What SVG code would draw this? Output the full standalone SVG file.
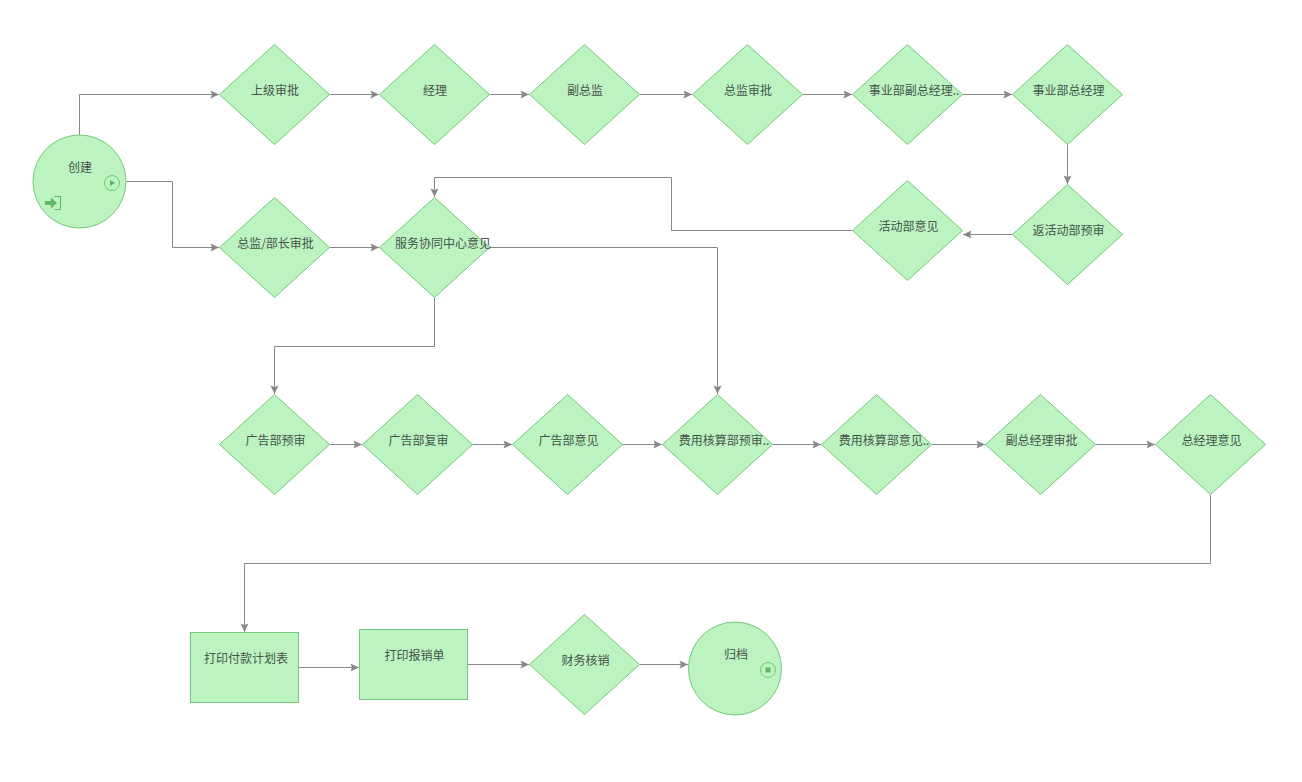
<svg xmlns="http://www.w3.org/2000/svg" width="1302" height="782" viewBox="0 0 1302 782">
<style>
.n{fill:#bdf3c1;stroke:#72c97a;stroke-width:1}
.c{fill:none;stroke:#888;stroke-width:1;marker-end:url(#a)}
text{font-family:"Noto Sans CJK SC","Noto Sans",sans-serif;font-size:12px;fill:#44544a;text-anchor:middle}
</style>
<defs>
<marker id="a" markerUnits="userSpaceOnUse" markerWidth="11" markerHeight="11" refX="9.5" refY="5" orient="auto"><path d="M1,1 L9.5,5 L1,9 L2.5,5 Z" fill="#888"/></marker>
<polygon id="d" class="n" points="0,-50 55,0 0,50 -55,0"/>
</defs>
<rect width="1302" height="782" fill="#fff"/>
<g id="connectors">
<path class="c" d="M79.5,135V94.5H219"/>
<path class="c" d="M126,181.5H172.5V247.5H219"/>
<path class="c" d="M330,94.5H379"/>
<path class="c" d="M490,94.5H529"/>
<path class="c" d="M640,94.5H692"/>
<path class="c" d="M803,94.5H852"/>
<path class="c" d="M963,94.5H1012"/>
<path class="c" d="M1067.5,145V184"/>
<path class="c" d="M1012,234.5H963"/>
<path class="c" d="M852,230.5H671.5V177.5H434.5V197"/>
<path class="c" d="M330,247.5H379"/>
<path class="c" d="M490,247.5H717.5V394"/>
<path class="c" d="M434.5,298V346.5H274.5V394"/>
<path class="c" d="M330,444.5H362"/>
<path class="c" d="M473,444.5H512"/>
<path class="c" d="M623,444.5H662"/>
<path class="c" d="M773,444.5H821"/>
<path class="c" d="M932,444.5H985"/>
<path class="c" d="M1096,444.5H1155"/>
<path class="c" d="M1210.5,495V563.5H244.5V632"/>
<path class="c" d="M298.5,667.5H359"/>
<path class="c" d="M467.5,664.5H529"/>
<path class="c" d="M640,664.5H688"/>
</g>
<g id="n-create"><circle class="n" cx="79.5" cy="181.5" r="46.5"/><text x="80" y="172">创建</text>
<circle cx="112" cy="183" r="7.5" fill="none" stroke="#72c97a"/><path d="M110,180L115,183L110,186Z" fill="#5cb866"/>
<path d="M45,201H51V197.5L57,203L51,208.5V205H45Z" fill="#5cb866"/><path d="M54.5,196.5H60.5V209.5H54.5" fill="none" stroke="#5cb866"/></g>
<g id="n1"><use href="#d" x="274.5" y="94.5"/><text x="275" y="95">上级审批</text></g>
<g id="n2"><use href="#d" x="434.5" y="94.5"/><text x="435" y="95">经理</text></g>
<g id="n3"><use href="#d" x="584.5" y="94.5"/><text x="585" y="95">副总监</text></g>
<g id="n4"><use href="#d" x="747.5" y="94.5"/><text x="748" y="95">总监审批</text></g>
<g id="n5"><use href="#d" x="907.5" y="94.5"/><text x="914" y="95">事业部副总经理..</text></g>
<g id="n6"><use href="#d" x="1067.5" y="94.5"/><text x="1068.5" y="95">事业部总经理</text></g>
<g id="n7"><use href="#d" x="1067.5" y="234.5"/><text x="1068.5" y="235">返活动部预审</text></g>
<g id="n8"><use href="#d" x="907.5" y="230.5"/><text x="908.5" y="231">活动部意见</text></g>
<g id="n9"><use href="#d" x="274.5" y="247.5"/><text x="275.5" y="248">总监/部长审批</text></g>
<g id="n10"><use href="#d" x="434.5" y="247.5"/><text x="443" y="248">服务协同中心意见</text></g>
<g id="n11"><use href="#d" x="274.5" y="444.5"/><text x="275.5" y="445">广告部预审</text></g>
<g id="n12"><use href="#d" x="417.5" y="444.5"/><text x="418.5" y="445">广告部复审</text></g>
<g id="n13"><use href="#d" x="567.5" y="444.5"/><text x="568.5" y="445">广告部意见</text></g>
<g id="n14"><use href="#d" x="717.5" y="444.5"/><text x="724" y="445">费用核算部预审..</text></g>
<g id="n15"><use href="#d" x="876.5" y="444.5"/><text x="884" y="445">费用核算部意见..</text></g>
<g id="n16"><use href="#d" x="1040.5" y="444.5"/><text x="1041.5" y="445">副总经理审批</text></g>
<g id="n17"><use href="#d" x="1210.5" y="444.5"/><text x="1211.5" y="445">总经理意见</text></g>
<g id="n18"><rect class="n" x="190.5" y="632.5" width="108" height="70"/><text x="246" y="663">打印付款计划表</text></g>
<g id="n19"><rect class="n" x="359.5" y="629.5" width="108" height="70"/><text x="414.5" y="660">打印报销单</text></g>
<g id="n20"><use href="#d" x="584.5" y="664.5"/><text x="585.5" y="665">财务核销</text></g>
<g id="n-end"><circle class="n" cx="735" cy="668.5" r="46.5"/><text x="736" y="659">归档</text>
<circle cx="768" cy="670" r="7.5" fill="none" stroke="#72c97a"/><rect x="765.5" y="667.5" width="5" height="5" fill="#5cb866"/></g>
</svg>
